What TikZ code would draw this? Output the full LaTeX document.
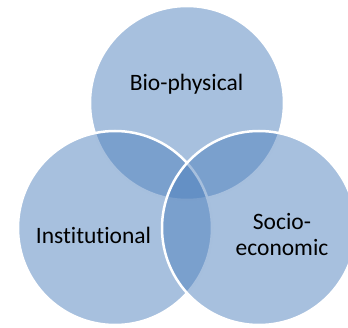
\documentclass[tikz,border=0pt]{standalone}
\usepackage{fontspec}
\setmainfont{Carlito}[Ligatures={NoCommon}]
\definecolor{vennblue}{RGB}{79,129,189}

\begin{document}
\begin{tikzpicture}[x=1pt, y=1pt,
	vennset/.style={fill=vennblue, fill opacity=0.5, draw=white, line width=2.5pt},
	venntext/.style={inner sep=0pt, anchor=base, font=\fontsize{23.5}{26}\selectfont, text=black}]
	\clip (0,0) rectangle (348,327);
	\draw[vennset] (187,224) circle (97);
	\draw[vennset] (115,99) circle (97);
	\draw[vennset] (259,99) circle (97);
	\node[venntext] (bio) at (186.5,236) {Bio-physical};
	\node[venntext] (inst) at (93.5,84) {Institutional};
	\node[venntext, align=center] (socio) at (282,72) {Socio-\\economic};
\end{tikzpicture}
\end{document}
